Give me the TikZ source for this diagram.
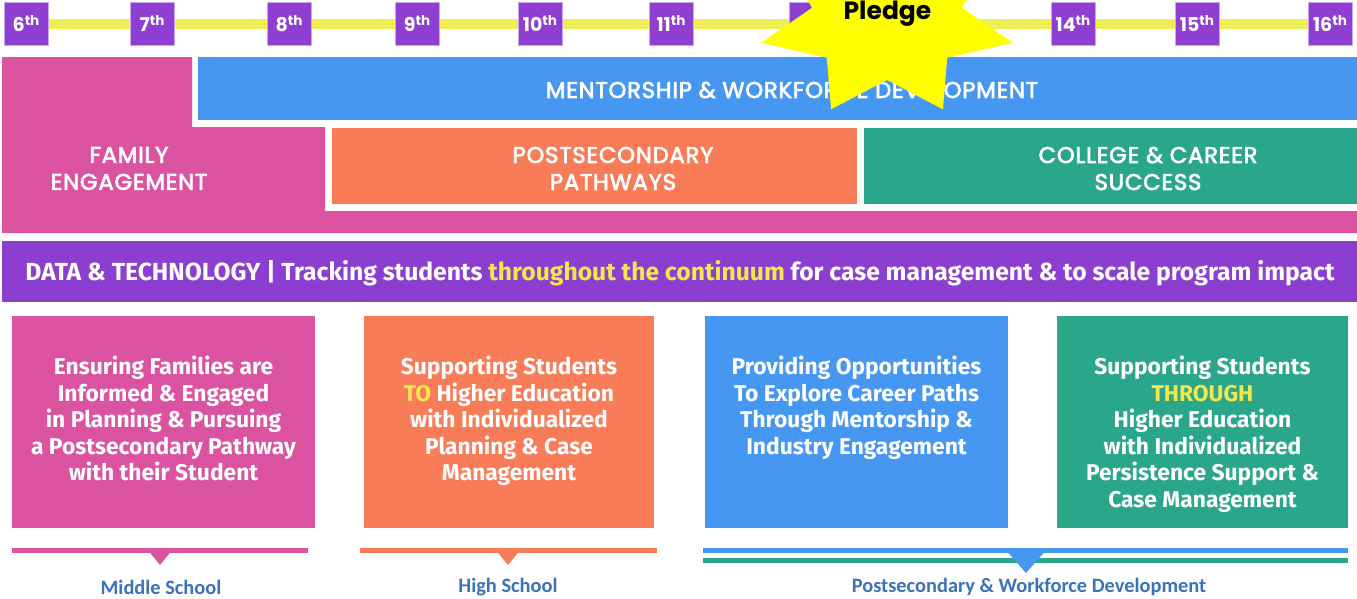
\documentclass[tikz,border=0pt]{standalone}
\usepackage{fontspec}
\setmainfont{Fira Sans}
\newfontfamily\headfont{Poppins}[LetterSpace=3.5,FakeBold=3]
\newfontfamily\gradefont{Poppins}
\newfontfamily\labelfont{Carlito}
\usetikzlibrary{positioning,backgrounds}

\definecolor{famPink}{HTML}{DB53A0}
\definecolor{mentorBlue}{HTML}{4597F1}
\definecolor{pathOrange}{HTML}{F87C57}
\definecolor{careerGreen}{HTML}{2AA78A}
\definecolor{dataPurple}{HTML}{8B3ECF}
\definecolor{gradePurple}{HTML}{8E3FD1}
\definecolor{gradeEdge}{HTML}{C9A6EE}
\definecolor{lineYellow}{HTML}{EEEE55}
\definecolor{hiYellow}{HTML}{F2E84B}
\definecolor{stageBlue}{HTML}{3B72B8}
\definecolor{starYellow}{HTML}{FFFF00}

\tikzset{
  gradebox/.style={fill=gradePurple, draw=gradeEdge, line width=0.8pt, minimum width=44pt,
    minimum height=43pt, inner sep=0pt, text=white, font=\gradefont\bfseries\fontsize{19}{19}\selectfont},
  headtext/.style={text=white, align=center, inner sep=0pt, font=\headfont\fontsize{22.7}{27}\selectfont},
  card/.style={minimum height=212pt, inner sep=0pt},
  cardtext/.style={text=white, align=center, inner sep=0pt, font=\bfseries\fontsize{22.8}{26.6}\selectfont},
  stagelabel/.style={text=stageBlue, inner sep=0pt, font=\labelfont\bfseries\fontsize{20.4}{20.4}\selectfont},
  stageline/.style={line width=5pt},
}
\newcommand{\gradelabel}[1]{#1\raisebox{5.5pt}{\fontsize{13.5}{13.5}\selectfont th}}

\begin{document}
\begin{tikzpicture}[x=1pt,y=-1pt]
  \clip (0,0) rectangle (1357,598);

  % top band
  \fill[famPink] (2,57) -- (192,57) -- (192,127) -- (325,127) -- (325,211)
    -- (1357,211) -- (1357,233) -- (2,233) -- cycle;
  \fill[mentorBlue] (198,57) rectangle (1357,120);
  \fill[pathOrange] (332,128) rectangle (857,204);
  \fill[careerGreen] (864,128) rectangle (1357,204);
  \node[headtext] (mentor) at (792,90) {MENTORSHIP \& WORKFORCE DEVELOPMENT};
  \node[headtext] (family) at (129,168.5) {FAMILY\\ENGAGEMENT};
  \node[headtext] (pathways) at (613,168.5) {POSTSECONDARY\\PATHWAYS};
  \node[headtext] (college) at (1148,168.5) {COLLEGE \& CAREER\\SUCCESS};

  % data bar
  \fill[dataPurple] (2,241) rectangle (1357,302);
  \node[text=white, inner sep=0pt, font=\bfseries\fontsize{24.7}{24.7}\selectfont] (data) at (680,273)
    {DATA \& TECHNOLOGY | Tracking students \textcolor{hiYellow}{throughout the continuum} for case management \& to scale program impact};

  % cards
  \node[card, fill=famPink, minimum width=303pt] (famcard) at (163.5,422) {};
  \node[card, fill=pathOrange, minimum width=290pt] (hscard) at (509,422) {};
  \node[card, fill=mentorBlue, minimum width=303pt] (mentcard) at (856.5,422) {};
  \node[card, fill=careerGreen, minimum width=291pt] (gradcard) at (1202.5,422) {};
  \node[cardtext, below=40pt of famcard.north] (famtext)
    {Ensuring Families are\\Informed \& Engaged\\in Planning \& Pursuing\\a Postsecondary Pathway\\with their Student};
  \node[cardtext, below=40pt of hscard.north] (hstext)
    {Supporting Students\\\textcolor{hiYellow}{TO} Higher Education\\with Individualized\\Planning \& Case\\Management};
  \node[cardtext, below=40pt of mentcard.north] (menttext)
    {Providing Opportunities\\To Explore Career Paths\\Through Mentorship \&\\Industry Engagement};
  \node[cardtext, below=40pt of gradcard.north] (gradtext)
    {Supporting Students\\\textcolor{hiYellow}{THROUGH}\\Higher Education\\with Individualized\\Persistence Support \&\\Case Management};

  % stage markers
  \draw[stageline, famPink] (12,550) -- (308,550);
  \fill[famPink] (147,549) -- (173,549) -- (160,565) -- cycle;
  \draw[stageline, pathOrange] (360,550) -- (657,550);
  \fill[pathOrange] (495,549) -- (521,549) -- (508,565) -- cycle;
  \draw[stageline, careerGreen] (703,560) -- (1348,560);
  \draw[stageline, mentorBlue] (703,550) -- (1348,550);
  \fill[mentorBlue] (1005,549) -- (1047,549) -- (1026,573) -- cycle;
  \node[stagelabel] (ms) at (161,587) {Middle School};
  \node[stagelabel] (hs) at (508,587) {High School};
  \node[stagelabel] (pw) at (1029,587) {Postsecondary \& Workforce Development};

  % grades
  \foreach \gx/\gn in {26/6,152/7,289/8,417/9,540/10,671/11,1073/14,1197/15,1330/16}
    \node[gradebox] (g\gn) at (\gx,23.5) {\gradelabel{\gn}};
  \node[gradebox] (g12) at (811,23.5) {};
  \begin{pgfonlayer}{background}
    \fill[white] (0,0) rectangle (1357,598);
    \draw[lineYellow, line width=10pt] (g6.center) -- (g16.center);
  \end{pgfonlayer}

  % pledge star
  \fill[starYellow] plot[variable=\k, samples at={0,...,13}]
    ({887+ifthenelse(mod(\k,2)==0,129,77)*cos(270+\k*180/7)},
     {21+ifthenelse(mod(\k,2)==0,98,59)*sin(270+\k*180/7)}) -- cycle;
  \node[anchor=base, inner sep=0pt, font=\gradefont\bfseries\fontsize{25}{25}\selectfont] (pledge) at (887.5,19) {Pledge};
\end{tikzpicture}
\end{document}
